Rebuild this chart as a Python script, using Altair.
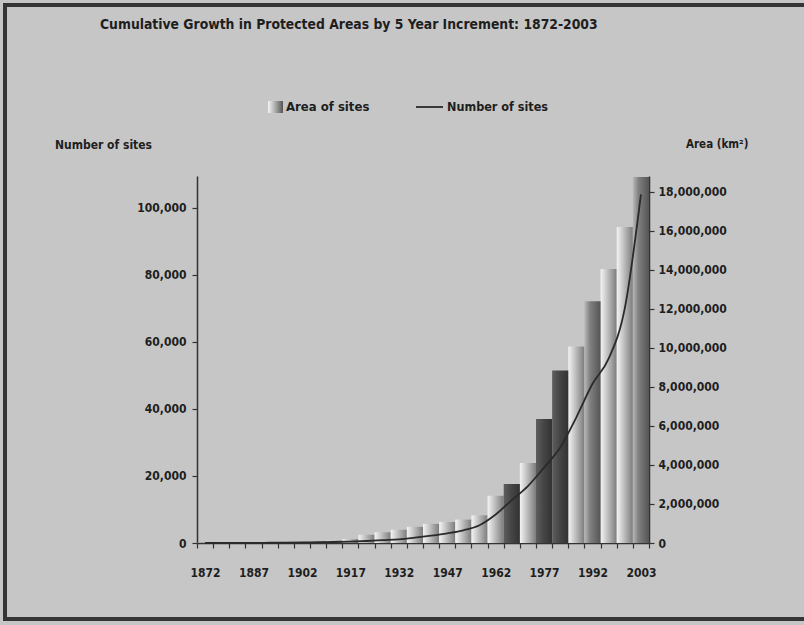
import altair as alt
import pandas as pd

# ---------------- data ----------------
years = ["1872", "1877", "1882", "1887", "1892", "1897", "1902", "1907", "1912", "1917",
         "1922", "1927", "1932", "1937", "1942", "1947", "1952", "1957", "1962", "1967",
         "1972", "1977", "1982", "1987", "1992", "1997", "2002", "2003"]
area_km2 = [9000, 10000, 12000, 20000, 30000, 40000, 60000, 80000, 120000, 200000,
            420000, 550000, 680000, 830000, 980000, 1080000, 1200000, 1420000, 2420000, 3020000,
            4100000, 6350000, 8840000, 10070000, 12380000, 14030000, 16190000, 18750000]
num_sites = [5, 10, 20, 40, 70, 100, 150, 220, 300, 420,
             600, 850, 1100, 1600, 2200, 2900, 3800, 5300, 8500, 12800,
             17000, 22500, 28500, 37500, 47500, 55000, 70000, 104000]
tick_labels = ["1872", "1887", "1902", "1917", "1932", "1947", "1962", "1977", "1992", "2003"]
left_ticks = [0, 20000, 40000, 60000, 80000, 100000]
right_ticks = [0, 2000000, 4000000, 6000000, 8000000, 10000000, 12000000, 14000000, 16000000, 18000000]

title_text = "Cumulative Growth in Protected Areas by 5 Year Increment: 1872-2003"
legend_area = "Area of sites"
legend_sites = "Number of sites"
left_title = "Number of sites"
right_title = "Area (km\u00b2)"

# ---------------- style ----------------
FONT = "DejaVu Sans Condensed, Liberation Sans Narrow, sans-serif"
BG = "#c6c6c6"
INK = "#1e1e1e"
dark_years = ["1967", "1977", "1982"]
mid_years = ["1992", "2003"]

df = pd.DataFrame({"year": years, "area": area_km2, "sites": num_sites})

label_js = "[" + ",".join("'%s'" % t for t in tick_labels) + "]"
x_enc = alt.X(
    "year:N", sort=years, title=None,
    scale=alt.Scale(paddingInner=0, paddingOuter=0),
    axis=alt.Axis(labelAngle=0, tickBand="extent", tickSize=5, labelPadding=19,
                  labelExpr="indexof(%s, datum.label) >= 0 ? datum.label : ''" % label_js),
)

def grad(stops):
    return alt.Gradient(gradient="linear", x1=0, x2=1, y1=0, y2=0,
                        stops=[alt.GradientStop(offset=o, color=c) for o, c in stops])

g_light = grad([(0, "#f4f4f4"), (0.4, "#c4c4c4"), (1, "#7c7c7c")])
g_mid = grad([(0, "#b8b8b8"), (0.35, "#808080"), (1, "#555555")])
g_dark = grad([(0, "#5e5e5e"), (0.5, "#444444"), (1, "#333333")])

y_area = alt.Y("area:Q", title=None,
               scale=alt.Scale(domain=[0, 18800000], nice=False),
               axis=alt.Axis(orient="right", values=right_ticks, format=",d",
                             tickSize=5, labelPadding=4, grid=False))

base = alt.Chart(df)
bars_light = base.mark_bar(color=g_light).encode(x=x_enc, y=y_area).transform_filter(
    {"not": alt.FieldOneOfPredicate(field="year", oneOf=dark_years + mid_years)})
bars_mid = base.mark_bar(color=g_mid).encode(x=x_enc, y=y_area).transform_filter(
    alt.FieldOneOfPredicate(field="year", oneOf=mid_years))
bars_dark = base.mark_bar(color=g_dark).encode(x=x_enc, y=y_area).transform_filter(
    alt.FieldOneOfPredicate(field="year", oneOf=dark_years))
bars = alt.layer(bars_light, bars_mid, bars_dark)

line = base.mark_line(interpolate="monotone", color="#2a2a2a", strokeWidth=1.8).encode(
    x=x_enc,
    y=alt.Y("sites:Q", title=None,
            scale=alt.Scale(domain=[0, 109500], nice=False),
            axis=alt.Axis(orient="left", values=left_ticks, format=",d",
                          tickSize=5, labelPadding=6, grid=False)),
)

one = alt.Data(values=[{}])

def label(text, x, y, size=12, align="left"):
    return alt.Chart(one).mark_text(
        text=text, align=align, baseline="middle", font=FONT, fontWeight="bold",
        fontSize=size, color=INK).encode(x=alt.value(x), y=alt.value(y))

title = label(title_text, -97, -151, size=13.8)
lt = label(left_title, -142, -31, size=12)
rt = label(right_title, 489, -31, size=11.5)
leg_area = label(legend_area, 89, -69, size=13)
leg_sites = label(legend_sites, 250, -69, size=12.5)
leg_sq = alt.Chart(one).mark_rect(color=grad([(0, "#f4f4f4"), (0.5, "#a8a8a8"), (1, "#555555")])).encode(
    x=alt.value(71), x2=alt.value(86), y=alt.value(-75), y2=alt.value(-63))
leg_ln = alt.Chart(one).mark_rule(color="#2a2a2a", strokeWidth=1.8).encode(
    x=alt.value(219), x2=alt.value(246), y=alt.value(-69))
frame = alt.Chart(one).mark_rect(fill=None, stroke="#353535", strokeWidth=4).encode(
    x=alt.value(-192), x2=alt.value(720), y=alt.value(-171), y2=alt.value(443))

chart = alt.layer(
    bars, line, frame, title, lt, rt, leg_sq, leg_area, leg_ln, leg_sites
).resolve_scale(y="independent").properties(
    width=452, height=367,
    padding={"left": 197, "top": 176, "right": 155, "bottom": 82},
    autosize=alt.AutoSizeParams(type="none"),
).configure(background=BG).configure_view(stroke=None).configure_axis(
    labelFont=FONT, labelFontWeight="bold", labelFontSize=12, labelColor=INK,
    domainColor="#333333", domainWidth=1.5, tickColor="#333333", tickWidth=1.2,
)

chart.save("out.html", embed_options={"renderer": "svg", "actions": False})
